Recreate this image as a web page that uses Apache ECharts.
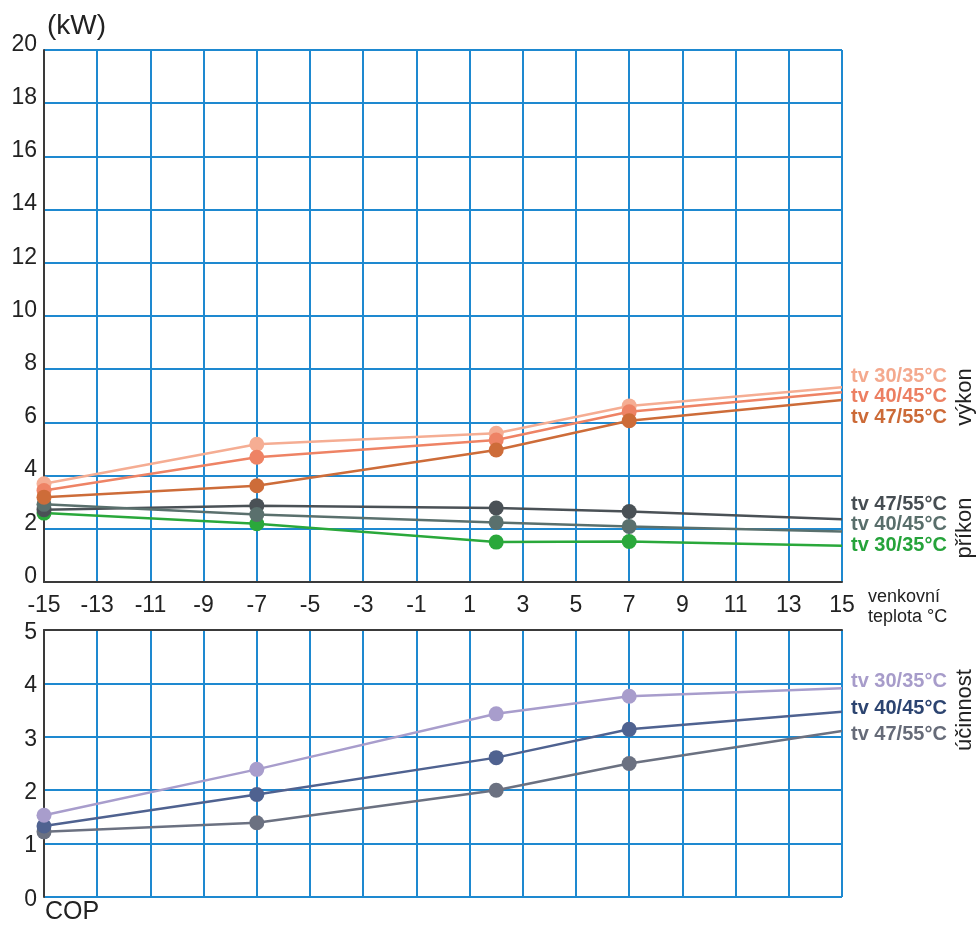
<!DOCTYPE html>
<html>
<head>
<meta charset="utf-8">
<script src="https://cdn.jsdelivr.net/npm/echarts@6/dist/echarts.min.js"></script>
<style>
  html, body { margin: 0; padding: 0; background: #fff; }
  #chart { width: 976px; height: 926px; }
</style>
</head>
<body>
<div id="chart"></div>
<script>
// venkovní teplota (°C)
const tempPoints = [-15, -7, 2, 7, 15];

// výkon (kW)
const vykon30 = [3.69, 5.18, 5.59, 6.62, 7.32];
const vykon40 = [3.44, 4.69, 5.34, 6.40, 7.13];
const vykon47 = [3.19, 3.62, 4.96, 6.06, 6.84];

// příkon (kW)
const prikon47 = [2.72, 2.87, 2.78, 2.65, 2.36];
const prikon40 = [2.92, 2.54, 2.24, 2.09, 1.90];
const prikon30 = [2.59, 2.19, 1.50, 1.52, 1.36];

// COP
const cop30 = [1.53, 2.39, 3.43, 3.76, 3.91];
const cop40 = [1.33, 1.92, 2.61, 3.14, 3.47];
const cop47 = [1.22, 1.39, 2.00, 2.50, 3.11];

const FONT = 'Liberation Sans, Arial, sans-serif';
const BLUE = '#1e89d0';
const DARK = '#3a3a3a';

// body posledního bodu (15 °C) jsou bez značky
const toData = vals => vals.map((v, i) => i === vals.length - 1
    ? { value: [tempPoints[i], v], symbol: 'none' }
    : [tempPoints[i], v]);

const mkLine = (name, vals, color, idx) => ({
    name: name,
    type: 'line',
    xAxisIndex: idx,
    yAxisIndex: idx,
    data: toData(vals),
    symbol: 'circle',
    symbolSize: 15,
    lineStyle: { color: color, width: 2.5 },
    itemStyle: { color: color },
    emphasis: { disabled: true },
    z: 3
})

const lbl = (text, x, y, color) => ({
    type: 'text',
    left: x,
    top: y - 11,
    style: { text: text, fill: color, font: 'bold 20px ' + FONT }
})

const vLbl = (text, cx, cy) => ({
    type: 'text',
    x: cx,
    y: cy,
    rotation: Math.PI / 2,
    style: { text: text, fill: '#222', font: '22px ' + FONT, align: 'center', verticalAlign: 'middle' }
})

const chart = echarts.init(document.getElementById('chart'))

const option = {
    animation: false,
    grid: [
        { left: 44, right: 134, top: 50, height: 532 },
        { left: 44, right: 134, top: 630, height: 267 }
    ],
    xAxis: [{
        gridIndex: 0,
        type: 'value',
        min: -15,
        max: 15,
        interval: 2,
        axisLine: { show: true, onZero: false, lineStyle: { color: DARK, width: 2 } },
        axisTick: { show: false },
        axisLabel: { color: '#222', fontSize: 23, fontFamily: FONT, margin: 12 },
        splitLine: { show: true, lineStyle: { color: BLUE, width: 2 } }
    }, {
        gridIndex: 1,
        type: 'value',
        min: -15,
        max: 15,
        interval: 2,
        position: 'top',
        axisLine: { show: true, onZero: false, lineStyle: { color: DARK, width: 2 } },
        axisTick: { show: false },
        axisLabel: { show: false },
        splitLine: { show: true, lineStyle: { color: BLUE, width: 2 } }
    }],
    yAxis: [{
        gridIndex: 0,
        type: 'value',
        min: 0,
        max: 20,
        interval: 2,
        axisLine: { show: true, onZero: false, lineStyle: { color: DARK, width: 2 } },
        axisTick: { show: false },
        axisLabel: { color: '#222', fontSize: 23, fontFamily: FONT, margin: 7, verticalAlign: 'bottom', lineHeight: 11 },
        splitLine: { show: true, lineStyle: { color: BLUE, width: 2 } }
    }, {
        gridIndex: 1,
        type: 'value',
        min: 0,
        max: 5,
        interval: 1,
        axisLine: { show: true, onZero: false, lineStyle: { color: DARK, width: 2 } },
        axisTick: { show: false },
        axisLabel: { color: '#222', fontSize: 23, fontFamily: FONT, margin: 7, verticalAlign: 'top', lineHeight: 5 },
        splitLine: { show: true, lineStyle: { color: BLUE, width: 2 } }
    }],
    series: [
        mkLine('příkon tv 30/35°C', prikon30, '#2aa83b', 0),
        mkLine('příkon tv 47/55°C', prikon47, '#4a5156', 0),
        mkLine('příkon tv 40/45°C', prikon40, '#5a706d', 0),
        mkLine('výkon tv 30/35°C', vykon30, '#f5ad93', 0),
        mkLine('výkon tv 40/45°C', vykon40, '#ee8365', 0),
        mkLine('výkon tv 47/55°C', vykon47, '#cd6c39', 0),
        mkLine('COP tv 47/55°C', cop47, '#6b7181', 1),
        mkLine('COP tv 40/45°C', cop40, '#4f6290', 1),
        mkLine('COP tv 30/35°C', cop30, '#a89dcc', 1)
    ],
    graphic: [
        { type: 'text', left: 47, top: 12, style: { text: '(kW)', fill: '#222', font: '28px ' + FONT } },
        { type: 'text', left: 45, top: 900, style: { text: 'COP', fill: '#222', font: '25px ' + FONT } },
        { type: 'text', left: 868, top: 587, style: { text: 'venkovní\nteplota °C', fill: '#222', font: '18px ' + FONT, lineHeight: 20 } },
        lbl('tv 30/35°C', 851, 377, '#f4a98e'),
        lbl('tv 40/45°C', 851, 397, '#ec7f62'),
        lbl('tv 47/55°C', 851, 418, '#cc6a37'),
        lbl('tv 47/55°C', 851, 505, '#464d52'),
        lbl('tv 40/45°C', 851, 525, '#596e6b'),
        lbl('tv 30/35°C', 851, 546, '#25a33a'),
        lbl('tv 30/35°C', 851, 682, '#a79cca'),
        lbl('tv 40/45°C', 851, 709, '#2c4470'),
        lbl('tv 47/55°C', 851, 735, '#666b78'),
        vLbl('výkon', 965, 397),
        vLbl('příkon', 965, 528),
        vLbl('účinnost', 965, 710)
    ]
}

chart.setOption(option)
window.onresize = () => chart.resize()
</script>
</body>
</html>
